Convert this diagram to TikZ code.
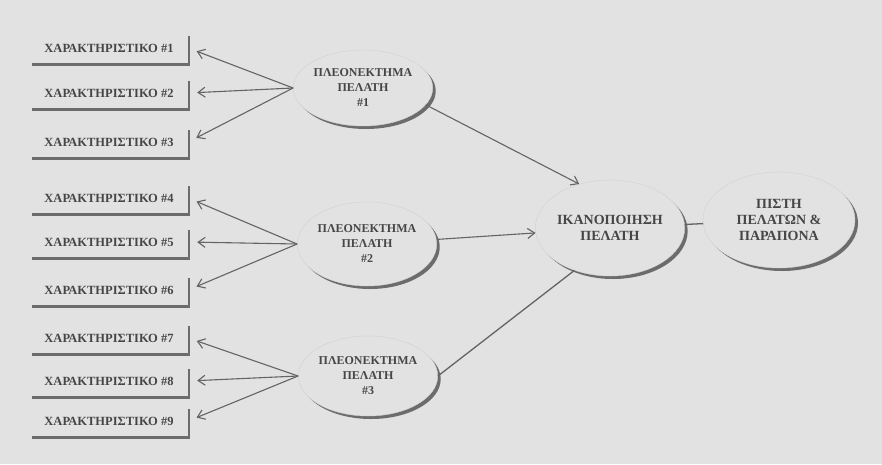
\documentclass[tikz,border=0pt]{standalone}
\usepackage{fontspec}
\setmainfont{Liberation Serif}
\usetikzlibrary{shapes.geometric, arrows.meta, shadows}

\definecolor{paper}{RGB}{226,226,226}
\definecolor{ink}{RGB}{70,70,70}
\definecolor{wire}{RGB}{100,100,100}
\definecolor{shade}{RGB}{108,108,108}

\begin{document}
\begin{tikzpicture}[
    x=1pt, y=-1pt,
    featbox/.style={rectangle, minimum width=158pt, minimum height=30pt, inner sep=0pt, fill=paper, text=ink, font=\bfseries\fontsize{12.5}{14}\selectfont, drop shadow={shadow xshift=2pt, shadow yshift=-3pt, fill=shade, opacity=1}},
    blob/.style={ellipse, inner sep=0pt, align=center, fill=paper, draw=black!18, line width=0.4pt, text=ink, drop shadow={shadow xshift=3pt, shadow yshift=-3pt, fill=shade, opacity=1}},
    adv/.style={blob, minimum width=130pt, font=\bfseries\fontsize{12}{15}\selectfont},
    big/.style={blob, font=\bfseries\fontsize{14}{16}\selectfont},
    arr/.style={-{Straight Barb[length=7pt, width=10pt]}, line width=1.1pt, draw=wire},
    fan/.style={arr, shorten >=9pt},
    link/.style={line width=1.3pt, draw=wire}
]

% Paper
\fill[paper] (0,0) rectangle (882,464);

% Features
\node[featbox] (f1) at (109,48) {ΧΑΡΑΚΤΗΡΙΣΤΙΚΟ \#1};
\node[featbox] (f2) at (109,93) {ΧΑΡΑΚΤΗΡΙΣΤΙΚΟ \#2};
\node[featbox] (f3) at (109,142) {ΧΑΡΑΚΤΗΡΙΣΤΙΚΟ \#3};
\node[featbox] (f4) at (109,198) {ΧΑΡΑΚΤΗΡΙΣΤΙΚΟ \#4};
\node[featbox] (f5) at (109,242) {ΧΑΡΑΚΤΗΡΙΣΤΙΚΟ \#5};
\node[featbox] (f6) at (109,290) {ΧΑΡΑΚΤΗΡΙΣΤΙΚΟ \#6};
\node[featbox] (f7) at (109,338) {ΧΑΡΑΚΤΗΡΙΣΤΙΚΟ \#7};
\node[featbox] (f8) at (109,381) {ΧΑΡΑΚΤΗΡΙΣΤΙΚΟ \#8};
\node[featbox] (f9) at (109,421) {ΧΑΡΑΚΤΗΡΙΣΤΙΚΟ \#9};

% Customer advantages
\node[adv, minimum height=76pt] (adv1) at (363,88) {ΠΛΕΟΝΕΚΤΗΜΑ\\ΠΕΛΑΤΗ\\\#1};
\node[adv, minimum height=84pt] (adv2) at (367,244) {ΠΛΕΟΝΕΚΤΗΜΑ\\ΠΕΛΑΤΗ\\\#2};
\node[adv, minimum height=80pt] (adv3) at (368,376) {ΠΛΕΟΝΕΚΤΗΜΑ\\ΠΕΛΑΤΗ\\\#3};

% Satisfaction and loyalty
\node[big, minimum width=130pt, minimum height=96pt] (sat) at (610,228) {ΙΚΑΝΟΠΟΙΗΣΗ\\ΠΕΛΑΤΗ};
\node[big, minimum width=152pt, minimum height=96pt] (loyal) at (779,220) {ΠΙΣΤΗ\\ΠΕΛΑΤΩΝ \&\\ΠΑΡΑΠΟΝΑ};

% Fans to the features
\draw[fan] (adv1.west) -- (f1.east);
\draw[fan] (adv1.west) -- (f2.east);
\draw[fan] (adv1.west) -- (f3.east);
\draw[fan] (adv2.west) -- (f4.east);
\draw[fan] (adv2.west) -- (f5.east);
\draw[fan] (adv2.west) -- (f6.east);
\draw[fan] (adv3.west) -- (f7.east);
\draw[fan] (adv3.west) -- (f8.east);
\draw[fan] (adv3.west) -- (f9.east);

% Advantages into satisfaction
\draw[arr] (adv1.-15) -- (sat.125);
\draw[arr] (adv2) -- (sat);
\draw[link] (adv3.east) -- (sat.-130);
\draw[link] (sat) -- (loyal);

\end{tikzpicture}
\end{document}
